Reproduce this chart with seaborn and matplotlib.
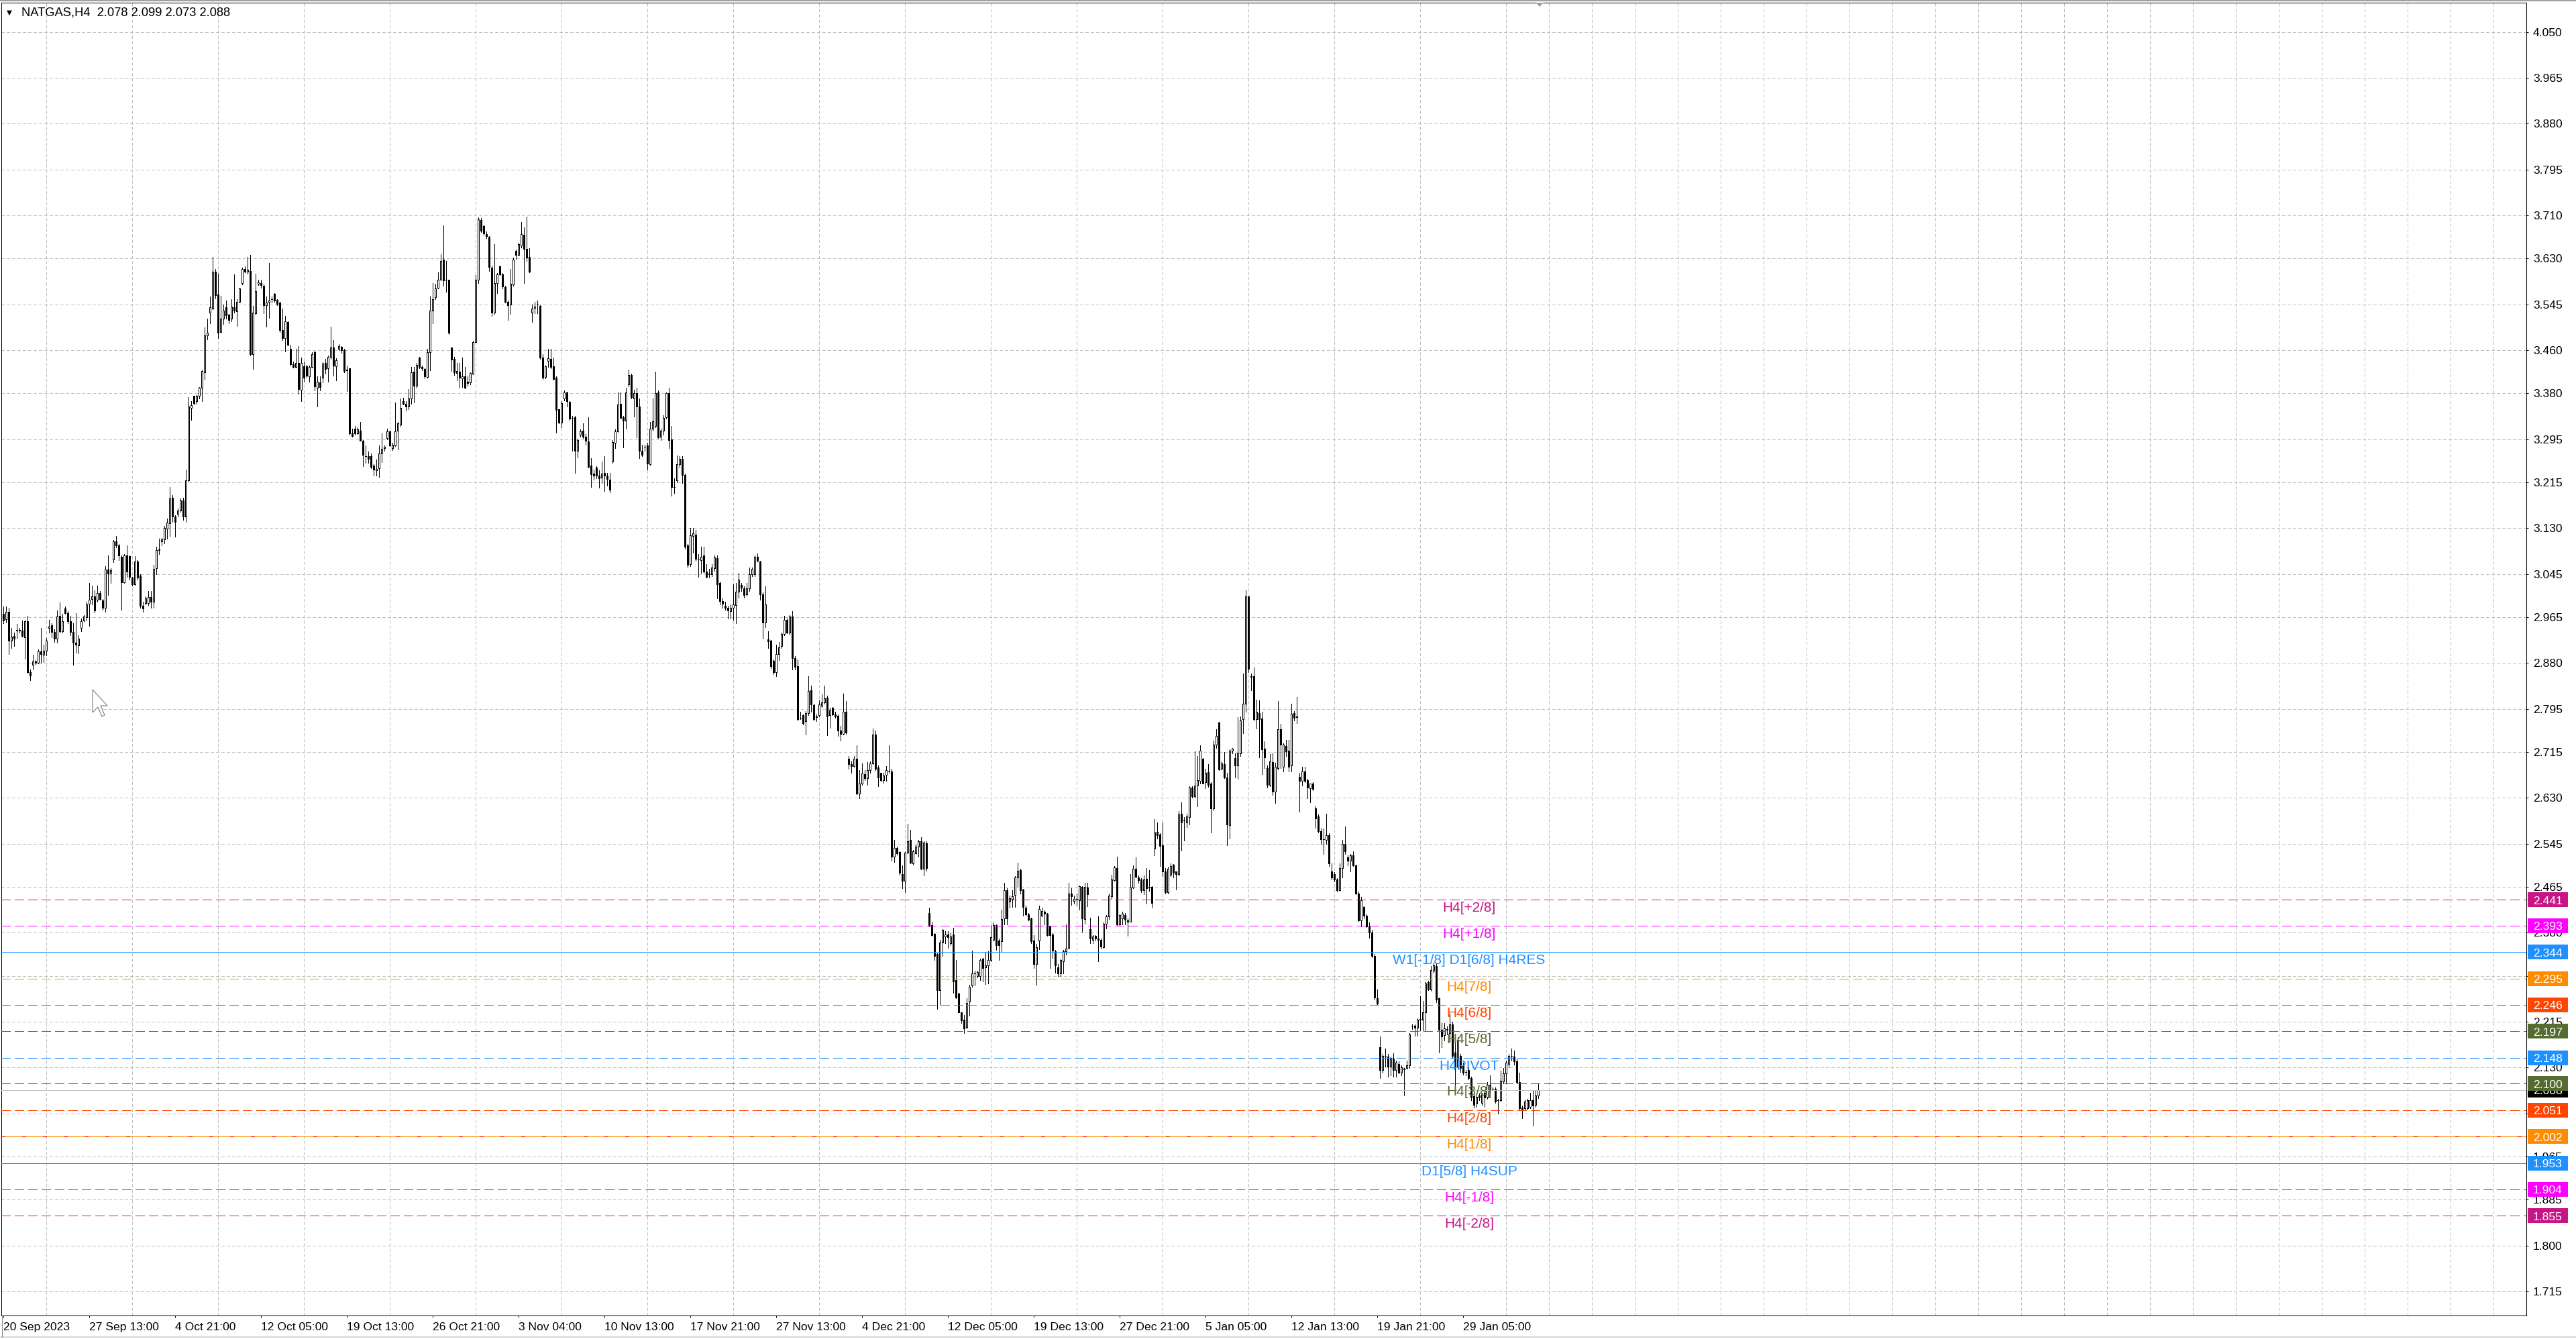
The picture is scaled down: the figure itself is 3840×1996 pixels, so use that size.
import numpy as np
import pandas as pd
import seaborn as sns
import matplotlib.pyplot as plt
import matplotlib.transforms as mtransforms
from matplotlib.patches import Rectangle, Polygon
from matplotlib.lines import Line2D

# NATGAS H4 candles, prices in thousandths (2971 -> 2.971), bars 1..573
open_milli = [
    2971, 2961, 2975, 2922, 2930, 2940, 2941, 2940, 2928, 2958,
    2863, 2877, 2883, 2880, 2902, 2895, 2903, 2945, 2950, 2938,
    2925, 2967, 2939, 2981, 2972, 2958, 2938, 2918, 2913, 2945,
    2959, 2965, 2990, 2998, 3003, 2997, 3010, 2996, 2982, 3053,
    3047, 3072, 3106, 3098, 3077, 3030, 3079, 3078, 3038, 3026,
    3068, 3042, 2986, 2991, 2991, 3002, 2994, 3056, 3089, 3106,
    3109, 3129, 3139, 3186, 3151, 3156, 3163, 3182, 3151, 3219,
    3353, 3375, 3365, 3375, 3390, 3419, 3488, 3530, 3537, 3606,
    3563, 3493, 3519, 3540, 3526, 3518, 3540, 3532, 3549, 3585,
    3611, 3605, 3607, 3453, 3528, 3583, 3585, 3579, 3543, 3549,
    3554, 3565, 3553, 3548, 3497, 3482, 3512, 3462, 3434, 3429,
    3436, 3387, 3430, 3430, 3412, 3429, 3456,
    3390, 3400, 3409, 3436, 3426, 3448, 3465, 3430, 3462, 3466,
    3460, 3423, 3426, 3306, 3314, 3306, 3311, 3292, 3264, 3263,
    3264, 3246, 3237, 3241, 3268, 3278, 3297, 3309, 3278, 3284,
    3311, 3322, 3365, 3360, 3356, 3371, 3420, 3394, 3446, 3429,
    3425, 3410, 3456, 3533, 3558, 3576, 3591, 3628, 3590, 3590,
    3465, 3444, 3418, 3420, 3408, 3411, 3402, 3400, 3416, 3475,
    3590, 3701, 3690, 3675, 3670, 3613, 3530, 3585, 3615, 3601,
    3577, 3550, 3545, 3582, 3644, 3637, 3654, 3674, 3648, 3633,
    3530, 3538, 3544, 3542, 3446, 3410, 3440, 3444, 3430, 3409,
    3351, 3326, 3370, 3382, 3364, 3335, 3336, 3274, 3303, 3311,
    3300, 3291, 3246, 3231, 3242, 3227, 3224, 3232, 3227, 3220,
    3253, 3288, 3309, 3360, 3336,
    3330, 3396, 3414, 3371, 3380, 3355, 3274, 3281, 3283, 3249,
    3314, 3320, 3382, 3299, 3311, 3336, 3380, 3295, 3206, 3219,
    3249, 3259, 3229, 3098, 3063, 3115, 3118, 3073, 3071, 3079,
    3050, 3046, 3045, 3056, 3075, 3028, 2995, 2986, 2983, 2976,
    2982, 2987, 3012, 3025, 3019, 3007, 3018, 3045, 3044, 3077,
    3068, 3007, 2955, 2924, 2922, 2884, 2863, 2897, 2911, 2934,
    2960, 2936, 2966, 2889, 2874, 2778, 2783, 2772, 2787, 2830,
    2802, 2781, 2783, 2801, 2807, 2816, 2783, 2797, 2785, 2782,
    2755, 2749, 2790, 2703, 2692, 2689, 2703, 2638, 2656, 2674,
    2667, 2681, 2694, 2747, 2686, 2676, 2663, 2673, 2679, 2679,
    2521, 2537, 2530, 2489, 2476, 2529, 2552, 2508, 2527, 2540,
    2550, 2498, 2546,
    2416, 2394, 2378, 2340, 2273, 2362, 2373, 2377, 2361, 2377,
    2292, 2267, 2232, 2219, 2205, 2252, 2282, 2305, 2300, 2300,
    2332, 2316, 2320, 2330, 2367, 2394, 2366, 2364, 2406, 2459,
    2438, 2443, 2450, 2482, 2496, 2460, 2427, 2414, 2406, 2366,
    2322, 2366, 2412, 2419, 2415, 2391, 2377, 2346, 2316, 2305,
    2327, 2346, 2352, 2453, 2439, 2442, 2440, 2465, 2405, 2464,
    2387, 2367, 2374, 2369, 2367, 2353, 2397, 2410, 2447, 2478,
    2500, 2395, 2407, 2413, 2403, 2400, 2464, 2499, 2482, 2479,
    2459, 2480, 2464, 2465, 2536, 2567, 2562, 2542, 2494, 2455,
    2487, 2506, 2493, 2489, 2600, 2588, 2584, 2594, 2649, 2633,
    2653, 2661, 2703, 2659, 2678, 2656, 2611, 2729, 2770, 2684,
    2693, 2668, 2580, 2717, 2704, 2690, 2713,
    2776, 2805, 3004, 2855, 2856, 2776, 2787, 2777, 2721, 2685,
    2654, 2696, 2641, 2685, 2757, 2688, 2726, 2718, 2690, 2787,
    2781, 2669, 2661, 2679, 2663, 2648, 2657, 2610, 2596, 2568,
    2553, 2552, 2561, 2493, 2488, 2479, 2459, 2500, 2544, 2520,
    2514, 2523, 2505, 2453, 2403, 2428, 2412, 2392, 2381, 2337,
    2259, 2168, 2126, 2152, 2150, 2132, 2147, 2126, 2137, 2121,
    2128, 2129, 2134, 2207, 2207, 2204, 2219, 2219, 2233, 2288,
    2275, 2310, 2318, 2258, 2200, 2190, 2201, 2194, 2210, 2158,
    2132, 2152, 2134, 2122, 2126, 2111, 2077, 2063, 2078, 2064,
    2083, 2076, 2098, 2091, 2090, 2069, 2070, 2104, 2119, 2137,
    2152, 2150, 2142, 2103, 2056, 2054, 2054, 2057, 2070, 2061, 2078,
]
high_milli = [
    2985, 2985, 2982, 2945, 2937, 2952, 2945, 2959, 2959, 2968,
    2868, 2895, 2886, 2905, 2945, 2914, 2926, 2960, 2954, 2942,
    2978, 2992, 2971, 2985, 2976, 2968, 2954, 2972, 2932, 2962,
    2969, 2994, 3029, 3023, 3015, 3023, 3014, 2999, 3060, 3080,
    3056, 3108, 3116, 3101, 3079, 3082, 3098, 3080, 3040, 3078,
    3071, 3045, 2994, 3003, 3014, 3014, 3062, 3096, 3111, 3112,
    3134, 3148, 3206, 3191, 3154, 3166, 3185, 3187, 3239, 3373,
    3365, 3376, 3377, 3392, 3423, 3502, 3518, 3559, 3633, 3610,
    3602, 3561, 3545, 3552, 3527, 3554, 3601, 3554, 3576, 3613,
    3616, 3633, 3637, 3542, 3602, 3590, 3590, 3582, 3559, 3622,
    3559, 3566, 3554, 3549, 3537, 3524, 3513, 3470, 3439, 3462,
    3468, 3446, 3439, 3433, 3432, 3456, 3459,
    3411, 3411, 3438, 3444, 3450, 3503, 3479, 3445, 3471, 3467,
    3463, 3431, 3427, 3315, 3319, 3317, 3327, 3293, 3284, 3272,
    3268, 3249, 3257, 3284, 3306, 3284, 3314, 3311, 3288, 3363,
    3327, 3370, 3372, 3365, 3388, 3429, 3429, 3436, 3448, 3431,
    3427, 3463, 3559, 3585, 3583, 3604, 3638, 3691, 3626, 3591,
    3465, 3447, 3436, 3436, 3446, 3429, 3411, 3419, 3477, 3599,
    3706, 3705, 3693, 3680, 3672, 3617, 3657, 3603, 3617, 3603,
    3579, 3552, 3610, 3632, 3647, 3659, 3697, 3688, 3707, 3649,
    3545, 3550, 3552, 3543, 3453, 3431, 3462, 3462, 3446, 3411,
    3351, 3365, 3386, 3383, 3365, 3338, 3338, 3296, 3313, 3324,
    3304, 3336, 3260, 3238, 3245, 3237, 3253, 3264, 3232, 3232,
    3293, 3313, 3382, 3382, 3338,
    3390, 3424, 3417, 3387, 3390, 3371, 3285, 3285, 3288, 3327,
    3371, 3420, 3386, 3314, 3339, 3382, 3390, 3320, 3223, 3265,
    3263, 3263, 3231, 3101, 3130, 3130, 3127, 3082, 3095, 3096,
    3063, 3054, 3063, 3079, 3079, 3031, 3000, 2993, 2986, 2988,
    3026, 3028, 3047, 3028, 3022, 3028, 3057, 3057, 3079, 3083,
    3069, 3011, 3022, 2939, 2923, 2887, 2914, 2919, 2936, 2967,
    2963, 2969, 2976, 2893, 2887, 2790, 2785, 2791, 2855, 2838,
    2804, 2785, 2811, 2822, 2838, 2819, 2797, 2798, 2789, 2785,
    2764, 2823, 2809, 2708, 2698, 2707, 2727, 2681, 2694, 2682,
    2696, 2698, 2759, 2755, 2690, 2677, 2676, 2689, 2728, 2684,
    2552, 2540, 2531, 2505, 2530, 2582, 2571, 2533, 2543, 2552,
    2557, 2550, 2549,
    2427, 2400, 2379, 2342, 2367, 2387, 2383, 2383, 2379, 2389,
    2329, 2269, 2232, 2228, 2258, 2284, 2347, 2309, 2309, 2332,
    2333, 2344, 2345, 2394, 2399, 2395, 2369, 2423, 2472, 2462,
    2449, 2459, 2485, 2510, 2498, 2461, 2430, 2416, 2408, 2376,
    2359, 2430, 2426, 2421, 2417, 2393, 2379, 2348, 2322, 2331,
    2348, 2395, 2473, 2463, 2449, 2453, 2468, 2466, 2472, 2472,
    2408, 2376, 2376, 2410, 2369, 2399, 2413, 2452, 2487, 2503,
    2521, 2414, 2419, 2417, 2406, 2489, 2505, 2520, 2486, 2481,
    2486, 2500, 2496, 2466, 2591, 2584, 2564, 2584, 2500, 2502,
    2509, 2507, 2494, 2606, 2622, 2594, 2601, 2652, 2652, 2716,
    2707, 2728, 2704, 2684, 2692, 2659, 2736, 2757, 2771, 2698,
    2715, 2676, 2720, 2722, 2713, 2780, 2781,
    2861, 3015, 3004, 2861, 2872, 2812, 2811, 2789, 2735, 2690,
    2711, 2713, 2695, 2809, 2767, 2731, 2737, 2737, 2804, 2791,
    2817, 2677, 2688, 2688, 2665, 2657, 2659, 2614, 2599, 2573,
    2573, 2601, 2565, 2508, 2492, 2481, 2508, 2552, 2577, 2524,
    2526, 2531, 2506, 2456, 2446, 2429, 2414, 2399, 2386, 2340,
    2275, 2187, 2155, 2165, 2155, 2150, 2156, 2143, 2142, 2134,
    2129, 2143, 2194, 2210, 2210, 2221, 2262, 2254, 2290, 2291,
    2318, 2325, 2323, 2260, 2212, 2212, 2206, 2230, 2215, 2176,
    2186, 2155, 2139, 2126, 2130, 2113, 2080, 2078, 2082, 2083,
    2087, 2103, 2116, 2093, 2093, 2072, 2124, 2129, 2143, 2155,
    2165, 2161, 2145, 2121, 2059, 2070, 2072, 2083, 2087, 2087, 2099,
]
low_milli = [
    2954, 2955, 2897, 2908, 2912, 2926, 2937, 2929, 2888, 2862,
    2848, 2868, 2878, 2879, 2880, 2882, 2894, 2937, 2928, 2919,
    2918, 2937, 2937, 2971, 2954, 2931, 2877, 2899, 2898, 2939,
    2956, 2959, 2949, 2989, 2974, 2994, 2997, 2979, 2975, 3006,
    3029, 3067, 3094, 3071, 2979, 3028, 3039, 3035, 3023, 3025,
    3035, 2983, 2975, 2988, 2987, 2982, 2982, 3045, 3082, 3098,
    3102, 3111, 3115, 3142, 3114, 3152, 3160, 3145, 3142, 3216,
    3331, 3359, 3361, 3371, 3365, 3406, 3480, 3510, 3536, 3556,
    3482, 3493, 3508, 3519, 3510, 3513, 3530, 3505, 3548, 3582,
    3604, 3602, 3450, 3425, 3526, 3581, 3576, 3529, 3503, 3520,
    3548, 3549, 3543, 3493, 3479, 3457, 3469, 3433, 3428, 3428,
    3379, 3365, 3402, 3410, 3402, 3428, 3385,
    3355, 3386, 3400, 3417, 3401, 3444, 3413, 3404, 3460, 3455,
    3419, 3384, 3303, 3299, 3303, 3304, 3292, 3245, 3251, 3251,
    3241, 3227, 3228, 3225, 3252, 3274, 3295, 3282, 3275, 3282,
    3276, 3320, 3359, 3348, 3351, 3361, 3363, 3390, 3427, 3423,
    3408, 3409, 3423, 3510, 3554, 3574, 3590, 3579, 3568, 3490,
    3421, 3414, 3404, 3390, 3392, 3389, 3394, 3396, 3415, 3475,
    3585, 3679, 3674, 3668, 3607, 3523, 3527, 3566, 3599, 3575,
    3548, 3516, 3527, 3580, 3629, 3636, 3650, 3585, 3626, 3604,
    3512, 3529, 3529, 3444, 3407, 3408, 3429, 3427, 3405, 3307,
    3324, 3317, 3367, 3355, 3331, 3274, 3232, 3261, 3299, 3297,
    3285, 3242, 3206, 3220, 3222, 3205, 3214, 3199, 3209, 3196,
    3251, 3279, 3308, 3334, 3280,
    3314, 3393, 3371, 3337, 3298, 3260, 3263, 3273, 3238, 3247,
    3311, 3317, 3297, 3293, 3303, 3333, 3279, 3190, 3195, 3215,
    3244, 3214, 3092, 3057, 3060, 3085, 3070, 3039, 3047, 3047,
    3038, 3038, 3041, 3051, 3000, 2988, 2982, 2979, 2962, 2962,
    2960, 2954, 3001, 3014, 3001, 3005, 3013, 3041, 3041, 3068,
    2997, 2925, 2946, 2908, 2870, 2859, 2855, 2885, 2908, 2931,
    2935, 2933, 2868, 2868, 2774, 2776, 2766, 2747, 2784, 2789,
    2774, 2772, 2781, 2798, 2804, 2746, 2760, 2783, 2778, 2745,
    2736, 2747, 2749, 2684, 2677, 2688, 2637, 2629, 2654, 2663,
    2654, 2677, 2692, 2681, 2651, 2660, 2658, 2662, 2676, 2514,
    2511, 2525, 2487, 2463, 2455, 2527, 2508, 2506, 2526, 2521,
    2497, 2486, 2495,
    2392, 2374, 2330, 2238, 2247, 2337, 2360, 2352, 2357, 2269,
    2259, 2232, 2213, 2194, 2203, 2226, 2280, 2282, 2297, 2292,
    2290, 2285, 2286, 2327, 2365, 2348, 2329, 2346, 2395, 2395,
    2427, 2428, 2428, 2466, 2453, 2412, 2412, 2403, 2361, 2315,
    2284, 2349, 2410, 2395, 2374, 2315, 2333, 2306, 2299, 2300,
    2304, 2339, 2350, 2431, 2434, 2430, 2423, 2382, 2397, 2429,
    2361, 2361, 2365, 2327, 2350, 2352, 2388, 2405, 2443, 2476,
    2393, 2393, 2395, 2395, 2374, 2400, 2463, 2482, 2473, 2455,
    2451, 2434, 2457, 2426, 2524, 2554, 2504, 2485, 2453, 2453,
    2485, 2483, 2460, 2486, 2532, 2551, 2576, 2581, 2631, 2631,
    2614, 2656, 2656, 2648, 2650, 2566, 2607, 2723, 2682, 2683,
    2667, 2542, 2554, 2713, 2668, 2665, 2708,
    2750, 2790, 2863, 2830, 2773, 2759, 2705, 2674, 2685, 2649,
    2651, 2636, 2620, 2683, 2685, 2679, 2707, 2679, 2679, 2774,
    2768, 2604, 2653, 2659, 2629, 2622, 2644, 2574, 2566, 2545,
    2526, 2544, 2503, 2479, 2475, 2456, 2457, 2482, 2526, 2505,
    2493, 2503, 2451, 2401, 2392, 2407, 2390, 2370, 2334, 2256,
    2247, 2111, 2121, 2132, 2113, 2115, 2113, 2113, 2119, 2115,
    2078, 2128, 2129, 2201, 2189, 2189, 2199, 2199, 2199, 2273,
    2272, 2306, 2251, 2158, 2168, 2180, 2191, 2178, 2148, 2096,
    2130, 2122, 2117, 2116, 2108, 2070, 2056, 2057, 2070, 2061,
    2057, 2072, 2074, 2089, 2065, 2044, 2067, 2100, 2100, 2130,
    2143, 2135, 2100, 2052, 2036, 2051, 2052, 2054, 2022, 2057, 2073,
]
close_milli = [
    2959, 2975, 2921, 2929, 2925, 2941, 2940, 2930, 2957, 2863,
    2857, 2883, 2881, 2902, 2897, 2903, 2922, 2948, 2938, 2925,
    2966, 2939, 2958, 2973, 2958, 2938, 2918, 2914, 2925, 2958,
    2966, 2988, 2997, 3004, 2978, 3010, 2998, 2982, 3053, 3046,
    3052, 3105, 3098, 3079, 3030, 3079, 3049, 3039, 3026, 3068,
    3038, 2986, 2981, 3000, 3002, 2994, 3055, 3089, 3090, 3109,
    3130, 3140, 3185, 3151, 3142, 3163, 3182, 3152, 3219, 3355,
    3358, 3362, 3375, 3390, 3421, 3488, 3492, 3539, 3606, 3562,
    3492, 3519, 3533, 3525, 3516, 3541, 3533, 3549, 3574, 3611,
    3606, 3609, 3453, 3530, 3570, 3586, 3581, 3543, 3548, 3552,
    3555, 3552, 3546, 3497, 3483, 3513, 3470, 3434, 3429, 3436,
    3388, 3436, 3409, 3413, 3429, 3453, 3393,
    3401, 3392, 3435, 3425, 3447, 3465, 3431, 3441, 3467, 3460,
    3421, 3424, 3306, 3301, 3306, 3313, 3292, 3266, 3263, 3259,
    3244, 3238, 3240, 3268, 3277, 3281, 3309, 3283, 3285, 3310,
    3324, 3353, 3361, 3356, 3371, 3419, 3394, 3433, 3429, 3426,
    3411, 3456, 3533, 3555, 3575, 3591, 3626, 3589, 3590, 3492,
    3442, 3419, 3421, 3409, 3411, 3390, 3399, 3418, 3475, 3590,
    3702, 3682, 3676, 3671, 3614, 3530, 3585, 3600, 3601, 3578,
    3550, 3543, 3583, 3628, 3637, 3657, 3675, 3648, 3632, 3606,
    3537, 3541, 3544, 3446, 3409, 3430, 3445, 3429, 3407, 3349,
    3326, 3362, 3382, 3365, 3333, 3334, 3274, 3293, 3309, 3299,
    3292, 3243, 3230, 3227, 3227, 3223, 3231, 3228, 3221, 3201,
    3289, 3310, 3359, 3335, 3329,
    3382, 3414, 3373, 3380, 3355, 3273, 3266, 3281, 3250, 3315,
    3328, 3380, 3298, 3311, 3335, 3380, 3293, 3206, 3206, 3248,
    3258, 3229, 3095, 3062, 3117, 3120, 3073, 3073, 3077, 3049,
    3039, 3045, 3057, 3076, 3026, 2995, 2990, 2982, 2977, 2982,
    2988, 3012, 3035, 3020, 3006, 3019, 3045, 3055, 3077, 3069,
    3007, 2955, 2988, 2920, 2874, 2863, 2897, 2909, 2934, 2960,
    2936, 2966, 2889, 2873, 2776, 2779, 2768, 2787, 2828, 2803,
    2776, 2780, 2803, 2807, 2814, 2781, 2792, 2785, 2781, 2755,
    2749, 2790, 2751, 2692, 2689, 2703, 2638, 2656, 2675, 2667,
    2682, 2694, 2747, 2684, 2668, 2663, 2671, 2681, 2679, 2521,
    2537, 2527, 2491, 2476, 2529, 2550, 2510, 2531, 2540, 2550,
    2498, 2547, 2500,
    2393, 2376, 2337, 2274, 2362, 2386, 2377, 2372, 2373, 2289,
    2260, 2233, 2217, 2203, 2250, 2280, 2304, 2305, 2307, 2330,
    2315, 2319, 2330, 2372, 2394, 2357, 2357, 2405, 2459, 2406,
    2444, 2448, 2482, 2495, 2459, 2428, 2414, 2404, 2364, 2322,
    2353, 2424, 2420, 2415, 2376, 2375, 2347, 2319, 2305, 2329,
    2346, 2351, 2452, 2447, 2443, 2442, 2466, 2406, 2465, 2451,
    2369, 2373, 2369, 2367, 2354, 2397, 2410, 2449, 2479, 2501,
    2395, 2413, 2415, 2404, 2400, 2464, 2498, 2484, 2477, 2459,
    2479, 2463, 2465, 2435, 2566, 2561, 2541, 2494, 2455, 2499,
    2504, 2491, 2489, 2599, 2584, 2588, 2596, 2649, 2633, 2653,
    2663, 2717, 2657, 2677, 2654, 2610, 2729, 2745, 2683, 2694,
    2668, 2581, 2717, 2721, 2690, 2713, 2774,
    2805, 3004, 2869, 2854, 2776, 2789, 2776, 2720, 2705, 2654,
    2698, 2642, 2687, 2757, 2729, 2729, 2716, 2688, 2786, 2778,
    2780, 2661, 2679, 2662, 2649, 2656, 2646, 2592, 2568, 2553,
    2553, 2561, 2508, 2483, 2479, 2459, 2500, 2545, 2531, 2514,
    2523, 2505, 2453, 2403, 2440, 2412, 2392, 2381, 2337, 2260,
    2249, 2126, 2152, 2152, 2132, 2147, 2126, 2139, 2121, 2130,
    2127, 2134, 2191, 2207, 2204, 2219, 2220, 2233, 2286, 2275,
    2311, 2319, 2256, 2200, 2187, 2203, 2200, 2210, 2152, 2132,
    2182, 2129, 2121, 2122, 2111, 2074, 2061, 2076, 2074, 2080,
    2074, 2098, 2087, 2091, 2067, 2069, 2106, 2119, 2139, 2152,
    2152, 2142, 2103, 2054, 2051, 2067, 2069, 2070, 2059, 2078, 2088,
]

# price axis ticks
price_ticks = [4.050, 3.965, 3.880, 3.795, 3.710, 3.630, 3.545, 3.460, 3.380,
               3.295, 3.215, 3.130, 3.045, 2.965, 2.880, 2.795, 2.715, 2.630,
               2.545, 2.465, 2.380, 2.300, 2.215, 2.130, 2.045, 1.965, 1.885,
               1.800, 1.715]

# time axis labels (bar number where each label sits)
time_tick_bars = [1, 33, 65, 97, 129, 161, 193, 225, 257, 289, 321, 353, 385,
                  417, 449, 481, 513, 545]
time_tick_labels = ["20 Sep 2023", "27 Sep 13:00", "4 Oct 21:00", "12 Oct 05:00",
                    "19 Oct 13:00", "26 Oct 21:00", "3 Nov 04:00", "10 Nov 13:00",
                    "17 Nov 21:00", "27 Nov 13:00", "4 Dec 21:00", "12 Dec 05:00",
                    "19 Dec 13:00", "27 Dec 21:00", "5 Jan 05:00", "12 Jan 13:00",
                    "19 Jan 21:00", "29 Jan 05:00"]

# Murrey-math style levels
levels = [2.441, 2.393, 2.344, 2.295, 2.246, 2.197, 2.148, 2.100, 2.051,
          2.002, 1.953, 1.904, 1.855]
level_names = ["H4[+2/8]", "H4[+1/8]", "W1[-1/8] D1[6/8] H4RES", "H4[7/8]",
               "H4[6/8]", "H4[5/8]", "H4PIVOT", "H4[3/8]", "H4[2/8]", "H4[1/8]",
               "D1[5/8] H4SUP", "H4[-1/8]", "H4[-2/8]"]
level_colors = ["#C71585", "#FF00FF", "#1E90FF", "#FF8C00", "#FF4500",
                "#556B2F", "#1E90FF", "#556B2F", "#FF4500", "#FF8C00",
                "#1E90FF", "#FF00FF", "#C71585"]
level_solid = [False, False, True, False, False, False, False, False, False,
               True, True, False, False]

symbol = "NATGAS,H4"


def main():
    df = pd.DataFrame({
        "o": np.array(open_milli) / 1000.0,
        "h": np.array(high_milli) / 1000.0,
        "l": np.array(low_milli) / 1000.0,
        "c": np.array(close_milli) / 1000.0,
    })
    df["bar"] = np.arange(1, len(df) + 1)

    sns.set_theme(style="white")
    plt.rcParams["font.family"] = ["Liberation Sans", "DejaVu Sans"]
    plt.rcParams["lines.scale_dashes"] = False

    W, H = 3840, 1996
    PX = 0.72  # one pixel in points at dpi 100
    fig = plt.figure(figsize=(W / 100, H / 100), dpi=100)
    fig.patch.set_facecolor("white")
    ax = fig.add_axes([2 / W, 35 / H, 3764 / W, 1957 / H])
    ax.set_facecolor("white")

    # candles, drawn crisp like the terminal does
    up = df["c"] >= df["o"]
    ax.vlines(df["bar"], df["l"], df["h"], color="black", lw=PX, zorder=3,
              antialiased=False)
    ax.bar(df["bar"][up], (df["c"] - df["o"])[up], bottom=df["o"][up], width=0.5,
           facecolor="white", edgecolor="black", lw=PX, zorder=3.2,
           antialiased=False)
    ax.bar(df["bar"][~up], (df["o"] - df["c"])[~up], bottom=df["c"][~up], width=0.5,
           facecolor="black", edgecolor="black", lw=PX, zorder=3.2,
           antialiased=False)

    ax.set_xlim(0.25, 941.25)
    ax.set_ylim(1.6702, 4.1043)

    # grid
    grid_dash = (0, (2.9, 2.2))
    ax.set_yticks(price_ticks)
    ax.set_yticklabels([f"{v:.3f}" for v in price_ticks])
    ax.set_xticks(time_tick_bars)
    ax.set_xticklabels(time_tick_labels)
    ax.set_xticks(np.arange(1, 942, 16), minor=True)
    ax.grid(False)
    ax.grid(True, which="major", axis="y", color="#c0c0c0", lw=PX, ls=grid_dash,
            antialiased=False)
    ax.grid(True, which="minor", axis="x", color="#c0c0c0", lw=PX, ls=grid_dash,
            antialiased=False)
    ax.set_axisbelow(True)

    ax.yaxis.tick_right()
    ax.tick_params(axis="y", which="major", right=True, left=False,
                   labelright=True, labelleft=False, direction="out",
                   length=2.2, width=PX, color="black", pad=5, labelsize=12.6,
                   labelcolor="black")
    ax.tick_params(axis="x", which="major", bottom=True, direction="out",
                   length=2.2, width=PX, color="black", pad=5, labelsize=12.6,
                   labelcolor="black")
    ax.tick_params(axis="x", which="minor", length=0)
    for lab in ax.get_xticklabels():
        lab.set_horizontalalignment("left")
    for sp in ax.spines.values():
        sp.set_color("black")
        sp.set_linewidth(PX)

    # levels
    long_dash = (0, (9.4, 5.0))
    for lvl, name, col, solid in zip(levels, level_names, level_colors, level_solid):
        ax.axhline(lvl, color=col, lw=PX, ls="-" if solid else long_dash, zorder=4,
                   antialiased=False)
        ax.text(547.25, lvl - 3 / 804, name, color=col, fontsize=15,
                ha="center", va="top", zorder=5)
    # red dashes over the H4[1/8] line
    ax.axhline(levels[9], color="#FF0000", lw=PX, ls=(0, (4.0, 18.0)), zorder=4.1,
               antialiased=False)

    # bid line
    last_close = df["c"].iloc[-1]
    ax.axhline(last_close, color="#c0c0c0", lw=PX, zorder=3.9, antialiased=False)

    # price boxes on the right scale
    trans = mtransforms.blended_transform_factory(ax.transAxes, ax.transData)
    box_x = (3768 - 2) / 3764
    box_w = 60 / 3764
    txt_x = (3776 - 2) / 3764
    half_h = 11 / 804

    def price_box(val, col, z):
        ax.add_patch(Rectangle((box_x, val - half_h), box_w, 2 * half_h,
                               transform=trans, facecolor=col, edgecolor="none",
                               clip_on=False, zorder=z, antialiased=False))
        ax.text(txt_x, val - 6.3 / 804, f"{val:.3f}", transform=trans,
                color="white", fontsize=12.6, ha="left", va="baseline",
                clip_on=False, zorder=z + 0.5)

    price_box(last_close, "black", 6)
    for i, (lvl, col) in enumerate(zip(levels, level_colors)):
        price_box(lvl, col, 7 + i)

    # header
    last = df.iloc[-1]
    fig.text(14 / W, 1 - 19 / H, "\u25bc", fontsize=7.5, family="DejaVu Sans",
             ha="center", va="center", color="black")
    fig.text(32 / W, 1 - 19 / H,
             f"{symbol}  {last.o:.3f} {last.h:.3f} {last.l:.3f} {last.c:.3f}",
             fontsize=13.2, ha="left", va="center", color="black")

    # chart shift marker and mouse cursor
    fig.patches.append(Polygon([(2289 / W, 1 - 4 / H), (2301 / W, 1 - 4 / H),
                                (2295 / W, 1 - 10 / H)], closed=True,
                               transform=fig.transFigure, facecolor="#a0a0a0",
                               edgecolor="none"))
    cur = [(0, 0), (0, 17), (4, 13), (7, 20), (9, 19), (6, 12), (11, 12)]
    fig.patches.append(Polygon([((138 + 2 * dx) / W, 1 - (1028 + 2 * dy) / H)
                                for dx, dy in cur], closed=True,
                               transform=fig.transFigure, facecolor="white",
                               edgecolor="#707070", lw=PX))

    # window frame bits
    fig.lines.append(Line2D([0, 1], [1 - 0.5 / H, 1 - 0.5 / H], color="#a0a0a0",
                            lw=PX * 2, transform=fig.transFigure))
    fig.lines.append(Line2D([0, 1], [3 / H, 3 / H], color="#d8d8d8",
                            lw=PX * 2, transform=fig.transFigure))
    fig.lines.append(Line2D([2.5 / W, 2.5 / W], [3 / H, 35 / H], color="#808080",
                            lw=PX, transform=fig.transFigure))

    fig.savefig("out.png", dpi=100, facecolor="white")


if __name__ == "__main__":
    main()
